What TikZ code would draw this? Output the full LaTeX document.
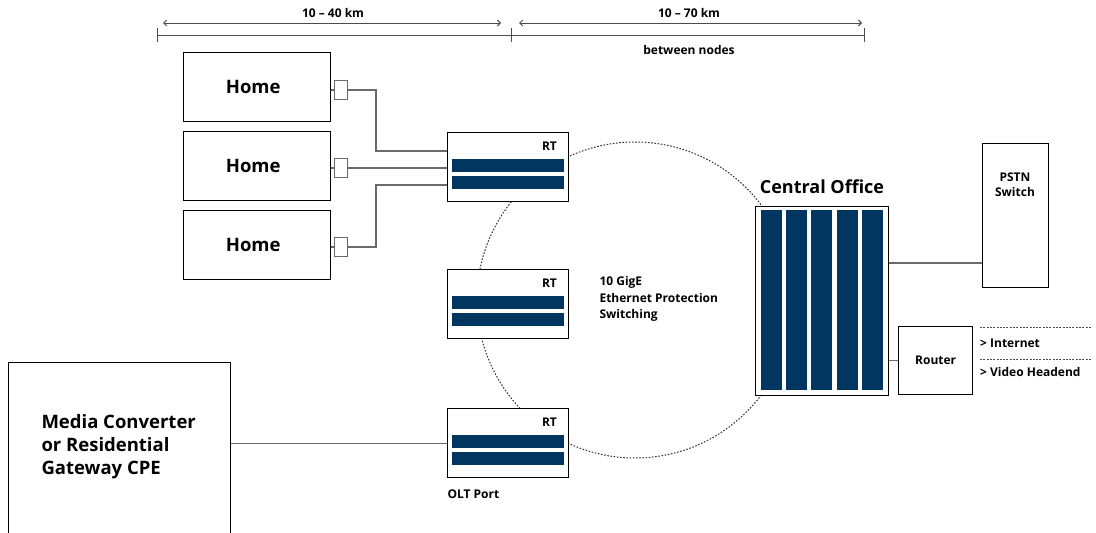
\documentclass[tikz,border=0pt]{standalone}
\usepackage{fontspec}
\setmainfont{Open Sans}
\usetikzlibrary{arrows.meta,calc}
\definecolor{navy}{HTML}{003660}
\definecolor{wire}{HTML}{6A6A6A}
\tikzset{
  box/.style={draw=black, line width=1.4pt, fill=white, inner sep=0pt, anchor=north west},
  bar/.style={fill=navy, draw=none},
  wireline/.style={draw=wire, line width=1.1pt},
  ring/.style={draw=black!80, line width=1pt, dash pattern=on 1.6pt off 1.6pt},
  plug/.style={draw=wire, line width=1pt, fill=white, minimum width=13pt, minimum height=19pt, inner sep=0pt},
  small/.style={font=\fontsize{12}{15}\selectfont\bfseries},
  big/.style={font=\fontsize{18.5}{23}\selectfont\bfseries},
  dim/.style={draw=black!70, line width=0.9pt},
  feed/.style={draw=black!70, line width=0.8pt, dash pattern=on 2pt off 1.3pt},
}
\begin{document}
\begin{tikzpicture}[x=1pt,y=-1pt]
\useasboundingbox (0,0) rectangle (1096,533);
% ring
\draw[ring] (635,300) circle[radius=158pt];
% dimension lines
\draw[dim] (157,35) -- (864,35);
\foreach \x in {157,511,864} \draw[dim] (\x,28) -- (\x,42);
\coordinate (a1) at (163,23); \coordinate (a2) at (501,23);
\coordinate (a3) at (519,23); \coordinate (a4) at (862,23);
\draw[dim, {Straight Barb[length=3pt,width=6pt]}-{Straight Barb[length=3pt,width=6pt]}] (a1) -- (a2);
\draw[dim, {Straight Barb[length=3pt,width=6pt]}-{Straight Barb[length=3pt,width=6pt]}] (a3) -- (a4);
\node[small] (d1) at (333,13) {10 – 40 km};
\node[small] (d2) at (689,13) {10 – 70 km};
\node[small] (d3) at (689,50) {between nodes};
% homes
\foreach \n/\y in {h1/52, h2/131, h3/210}{
  \node[box, minimum width=147pt, minimum height=69pt] (\n) at (183,\y) {};
  \node[big] (\n txt) at ($(\n.center)+(-4,0)$) {Home};
}
% RT boxes
\foreach \n/\y in {rt1/132, rt2/269, rt3/408}{
  \node[box, minimum width=121pt, minimum height=69pt] (\n) at (447,\y) {};
  \fill[bar] ($(\n.north west)+(5,27)$) rectangle ($(\n.north east)+(-5,40)$);
  \fill[bar] ($(\n.north west)+(5,44)$) rectangle ($(\n.north east)+(-5,57)$);
  \node[small, anchor=east] (\n lbl) at ($(\n.north east)+(-9,14)$) {RT};
}
\node[small, anchor=west] (olt) at (444,494) {OLT Port};
% plugs
\node[plug] (p1) at (341,90) {};
\node[plug] (p2) at (341,168) {};
\node[plug] (p3) at (341,247) {};
\draw[wireline] (h1.east |- p1) -- (p1.west);
\draw[wireline] (h2.east |- p2) -- (p2.west);
\draw[wireline] (h3.east |- p3) -- (p3.west);
\coordinate (j1) at (376,151);
\coordinate (j3) at (376,185);
\draw[wireline] (p1.east) -| (j1) -- (j1 -| rt1.west);
\draw[wireline] (p2.east) -- (p2 -| rt1.west);
\draw[wireline] (p3.east) -| (j3) -- (j3 -| rt1.west);
% media converter
\node[box, minimum width=222pt, minimum height=175pt] (media) at (8,362) {};
\node[big, anchor=west, align=left] (mtxt) at (38,447) {Media Converter\\or Residential\\Gateway CPE};
\draw[wireline] (media.east |- rt3.west) -- (rt3.west);
% ring label
\node[anchor=north west, align=left, font=\fontsize{12}{16.5}\selectfont\bfseries] (ring) at (596,273) {10 GigE\\Ethernet Protection\\Switching};
% central office
\node[box, minimum width=133pt, minimum height=189pt] (co) at (755,206) {};
\foreach \i in {0,...,4}{
  \fill[bar] ($(co.north west)+(6+25.2*\i,4)$) rectangle ($(co.north west)+(27+25.2*\i,184)$);
}
\node[font=\fontsize{18}{22}\selectfont\bfseries] (cotxt) at (822,187) {Central Office};
% PSTN
\node[box, minimum width=66pt, minimum height=144pt] (pstn) at (982,143) {};
\node[small, align=center] (pstntxt) at (1015,185) {PSTN\\Switch};
\coordinate (pin) at (982,263);
\draw[wireline] (co.east |- pin) -- (pin);
% router
\node[box, minimum width=74pt, minimum height=68pt, small] (router) at (898,326) {Router};
\draw[wireline] (co.east |- router.west) -- (router.west);
\coordinate (f1) at (980,327); \coordinate (f2) at (1092,327);
\coordinate (f3) at (980,359); \coordinate (f4) at (1092,359);
\draw[feed] (f1) -- (f2);
\draw[feed] (f3) -- (f4);
\node[small, anchor=west, inner sep=0pt] (inet) at (980,343) {> Internet};
\node[small, anchor=west, inner sep=0pt] (video) at (980,372) {> Video Headend};
\end{tikzpicture}
\end{document}
